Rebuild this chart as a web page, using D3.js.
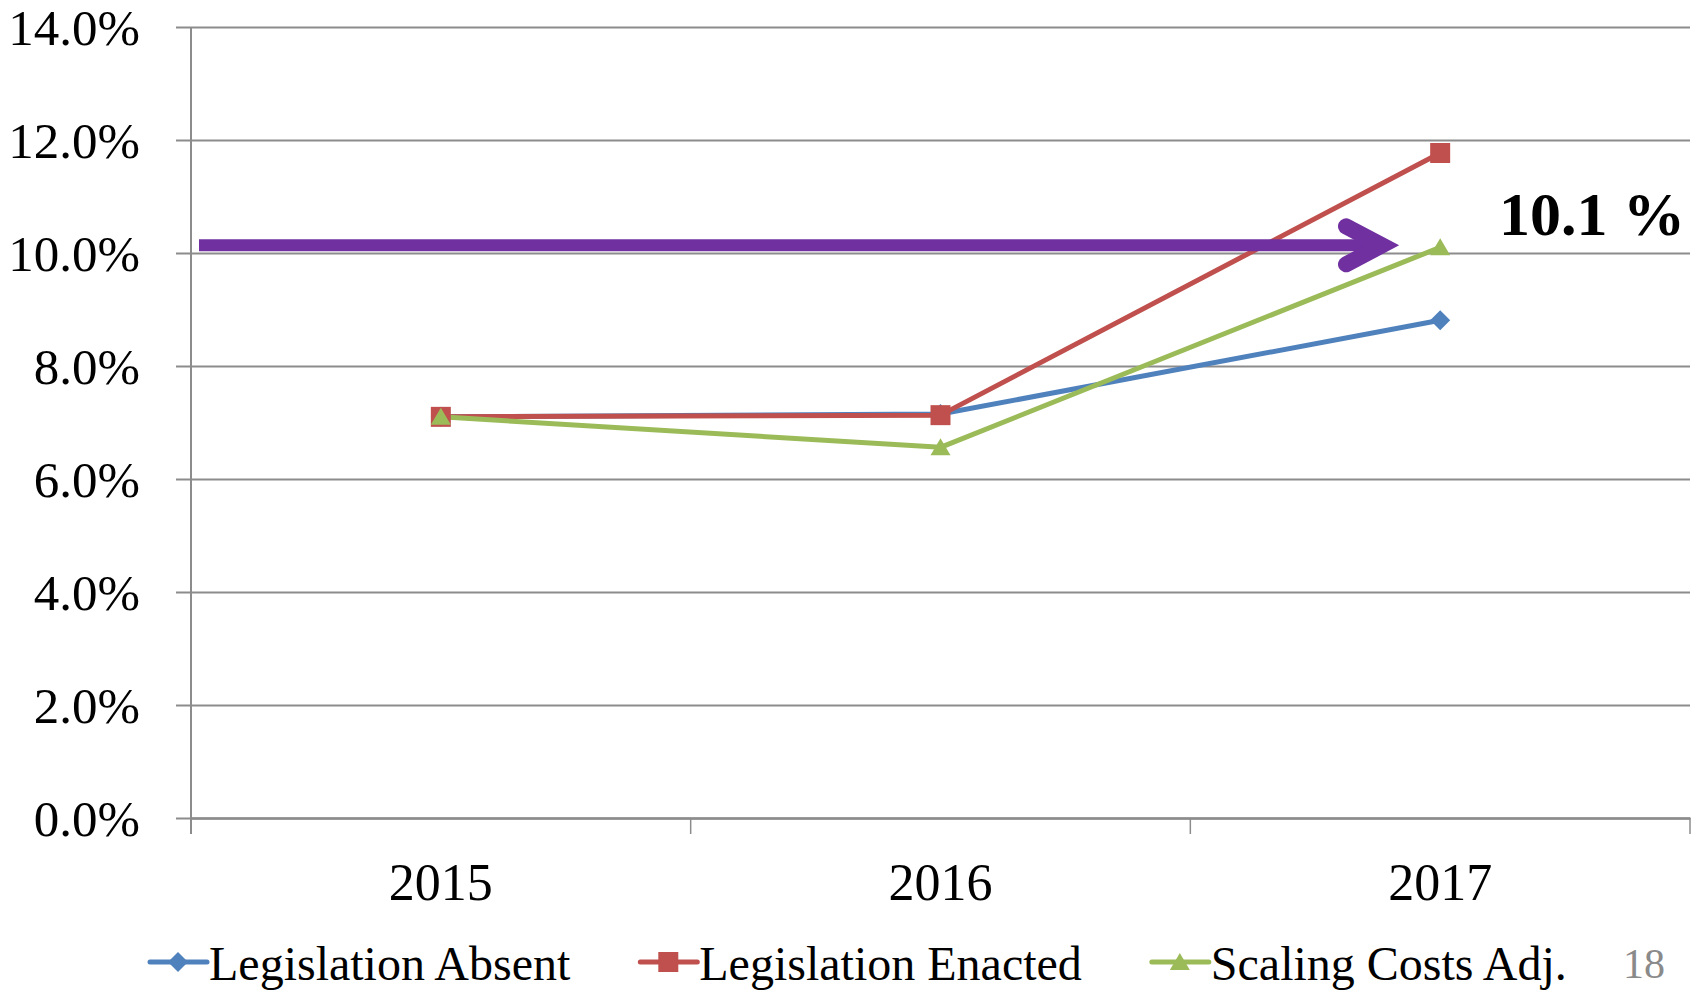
<!DOCTYPE html>
<html>
<head>
<meta charset="utf-8">
<script src="https://cdn.jsdelivr.net/npm/d3@7"></script>
<style>
  html, body { margin: 0; padding: 0; background: #fff; }
  svg { display: block; font-family: "Liberation Serif", "Times New Roman", serif; }
</style>
</head>
<body>
<svg id="chart" width="1703" height="990"></svg>
<script>
// Annual rates by scenario
const years = ["2015", "2016", "2017"];
const absent = [0.0710, 0.0715, 0.0881];
const enacted = [0.0710, 0.0713, 0.1177];
const scaling = [0.0710, 0.0656, 0.1010];
const yTicks = [0, 0.02, 0.04, 0.06, 0.08, 0.10, 0.12, 0.14];
const target = 0.101;
const targetLabel = "10.1 %";
const pageNumber = "18";

const series = [
  { name: "Legislation Absent", values: absent, color: "#4F81BD", symbol: "diamond" },
  { name: "Legislation Enacted", values: enacted, color: "#C0504D", symbol: "square" },
  { name: "Scaling Costs Adj.", values: scaling, color: "#9BBB59", symbol: "triangle" }
];

const svg = d3.select("#chart");
const plotLeft = 191, plotRight = 1690, plotTop = 27, plotBottom = 818;

const x = d3.scaleBand().domain(years).range([plotLeft, plotRight]).padding(0);
const y = d3.scaleLinear().domain([0, 0.14]).range([plotBottom, plotTop]);
const gridColor = "#8c8c8c";

// Horizontal gridlines with outward ticks on the left
const yAxis = d3.axisLeft(y).tickValues(yTicks)
  .tickSize(-(plotRight - plotLeft)).tickSizeOuter(0).tickPadding(51)
  .tickFormat(d3.format(".1%"));
const gy = svg.append("g").attr("transform", `translate(${plotLeft},0)`).call(yAxis);
gy.select(".domain").remove();
gy.selectAll(".tick line").attr("x1", -15).attr("stroke", gridColor).attr("stroke-width", 2);
gy.selectAll(".tick text").attr("font-size", 51).attr("fill", "#000")
  .attr("font-family", "Liberation Serif").attr("dy", "0.34em");

// Vertical axis line
svg.append("line").attr("x1", plotLeft).attr("x2", plotLeft).attr("y1", plotTop).attr("y2", plotBottom + 16)
  .attr("stroke", gridColor).attr("stroke-width", 2);

// Category axis
const xAxis = d3.axisBottom(x).tickSize(0).tickPadding(0);
const gx = svg.append("g").attr("transform", `translate(0,${plotBottom})`).call(xAxis);
gx.select(".domain").attr("stroke", gridColor).attr("stroke-width", 2.5);
gx.selectAll(".tick text").attr("font-size", 52).attr("fill", "#000")
  .attr("font-family", "Liberation Serif").attr("y", 82).attr("dy", 0);
// Category boundaries
const bounds = years.map(d => x(d)).concat([x(years[years.length - 1]) + x.bandwidth()]);
svg.append("g").selectAll("line").data(bounds).join("line")
  .attr("x1", d => d).attr("x2", d => d).attr("y1", plotBottom).attr("y2", plotBottom + 16)
  .attr("stroke", gridColor).attr("stroke-width", 1.5);

const cx = d => x(d) + x.bandwidth() / 2;

function symbolPath(kind) {
  if (kind === "diamond") return "M0,-10L10,0L0,10L-10,0Z";
  if (kind === "square") return "M-10,-10H10V10H-10Z";
  return "M0,-9L10,8H-10Z";
}

// Series lines and markers
const line = d3.line().x((d, i) => cx(years[i])).y(d => y(d));
series.forEach(s => {
  svg.append("path").datum(s.values).attr("d", line)
    .attr("fill", "none").attr("stroke", s.color).attr("stroke-width", 5)
    .attr("stroke-linejoin", "round");
});
series.forEach(s => {
  svg.append("g").selectAll("path").data(s.values).join("path")
    .attr("transform", (d, i) => `translate(${cx(years[i])},${y(d)})`)
    .attr("d", symbolPath(s.symbol)).attr("fill", s.color);
});

// Reference arrow at the target rate
const ay = y(target) - 2;
const apexX = 1382;
svg.append("line").attr("x1", 199).attr("x2", apexX).attr("y1", ay).attr("y2", ay)
  .attr("stroke", "#7030A0").attr("stroke-width", 12);
svg.append("path").attr("d", `M${apexX - 36},${ay - 19}L${apexX},${ay}L${apexX - 36},${ay + 19}`)
  .attr("fill", "none").attr("stroke", "#7030A0").attr("stroke-width", 16)
  .attr("stroke-linecap", "round").attr("stroke-linejoin", "miter");
svg.append("text").attr("x", 1685).attr("y", 235).attr("text-anchor", "end")
  .attr("font-size", 62).attr("font-weight", "bold").attr("fill", "#000")
  .text(targetLabel);

// Legend
let lx = 150;
const ly = 962;
series.forEach(s => {
  const g = svg.append("g");
  g.append("line").attr("x1", lx).attr("x2", lx + 57).attr("y1", ly).attr("y2", ly)
    .attr("stroke", s.color).attr("stroke-width", 5).attr("stroke-linecap", "round");
  g.append("path").attr("transform", `translate(${lx + 28},${ly})`)
    .attr("d", symbolPath(s.symbol)).attr("fill", s.color);
  const t = g.append("text").attr("x", lx + 59).attr("y", 980)
    .attr("font-size", 48).attr("fill", "#000").text(s.name);
  lx += 59 + t.node().getComputedTextLength() + 70;
});

// Page number
svg.append("text").attr("x", 1623).attr("y", 978).attr("font-size", 42)
  .attr("fill", "#8a8a8a").text(pageNumber);
</script>
</body>
</html>
